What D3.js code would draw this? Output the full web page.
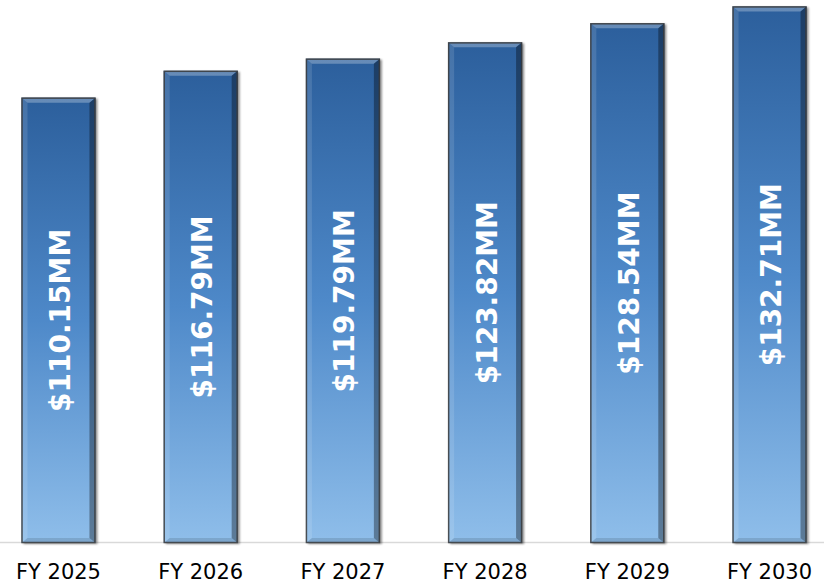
<!DOCTYPE html>
<html>
<head>
<meta charset="utf-8">
<script src="https://cdn.jsdelivr.net/npm/d3@7"></script>
<style>
  html, body { margin: 0; padding: 0; background: #ffffff; }
  svg { display: block; }
</style>
</head>
<body>
<svg id="chart" width="824" height="583"></svg>
<script>
const categories = ["FY 2025", "FY 2026", "FY 2027", "FY 2028", "FY 2029", "FY 2030"];
const values = [110.15, 116.79, 119.79, 123.82, 128.54, 132.71];
const valueLabels = ["$110.15MM", "$116.79MM", "$119.79MM", "$123.82MM", "$128.54MM", "$132.71MM"];

const W = 824, H = 583;
const baseY = 543;
const svg = d3.select("#chart");

const x = d3.scaleBand().domain(categories).range([21.5, 806.5]).paddingInner(0.48).paddingOuter(0);
const y = d3.scaleLinear().domain([0, 134.3]).range([baseY, 0]);

const defs = svg.append("defs");
const grad = defs.append("linearGradient").attr("id", "barGrad")
  .attr("x1", 0).attr("y1", 0).attr("x2", 0).attr("y2", 1);
grad.append("stop").attr("offset", "0%").attr("stop-color", "#2c5f9c");
grad.append("stop").attr("offset", "50%").attr("stop-color", "#4e89c9");
grad.append("stop").attr("offset", "100%").attr("stop-color", "#8fbeea");

const blur = defs.append("filter").attr("id", "shadow").attr("x", "-20%").attr("y", "-5%").attr("width", "140%").attr("height", "110%");
blur.append("feGaussianBlur").attr("stdDeviation", 1.2);

// axis line
svg.append("line").attr("x1", 0).attr("x2", W).attr("y1", baseY - 0.5).attr("y2", baseY - 0.5)
  .attr("stroke", "#d9d9d9").attr("stroke-width", 1.5);

const data = categories.map((c, i) => ({ c, v: values[i], label: valueLabels[i] }));
const g = svg.append("g");

const bars = g.selectAll("g.bar").data(data).join("g").attr("class", "bar");

// shadow
bars.append("rect")
  .attr("x", d => x(d.c) + 2)
  .attr("y", d => y(d.v) + 1)
  .attr("width", x.bandwidth())
  .attr("height", d => baseY - y(d.v))
  .attr("fill", "#000").attr("opacity", 0.45)
  .attr("filter", "url(#shadow)");

// main bar
bars.append("rect")
  .attr("x", d => x(d.c))
  .attr("y", d => y(d.v))
  .attr("width", x.bandwidth())
  .attr("height", d => baseY - y(d.v))
  .attr("fill", "url(#barGrad)");

const bvS = 6, bvT = 5;
function bevel(d, side) {
  const x0 = x(d.c), x1 = x0 + x.bandwidth(), y0 = y(d.v), y1 = baseY;
  if (side === "top") return [[x0, y0], [x1, y0], [x1 - bvS, y0 + bvT], [x0 + bvS, y0 + bvT]];
  if (side === "left") return [[x0, y0], [x0 + bvS, y0 + bvT], [x0 + bvS, y1 - bvT], [x0, y1]];
  if (side === "right") return [[x1, y0], [x1, y1], [x1 - bvS, y1 - bvT], [x1 - bvS, y0 + bvT]];
  return [[x0, y1], [x0 + bvS, y1 - bvT], [x1 - bvS, y1 - bvT], [x1, y1]];
}
const line = d3.line();
const bevelStyles = { top: ["#ffffff", 0.28], left: ["#ffffff", 0.12], right: ["#000000", 0.35], bottom: ["#000000", 0.12] };
Object.keys(bevelStyles).forEach(side => {
  bars.append("path")
    .attr("d", d => line(bevel(d, side)) + "Z")
    .attr("fill", bevelStyles[side][0])
    .attr("opacity", bevelStyles[side][1]);
});

// outline
bars.append("rect")
  .attr("x", d => x(d.c) + 0.5)
  .attr("y", d => y(d.v) + 0.5)
  .attr("width", x.bandwidth() - 1)
  .attr("height", d => baseY - y(d.v) - 1)
  .attr("fill", "none")
  .attr("stroke", "#3a3a3a").attr("stroke-width", 1.5).attr("opacity", 0.85);

// value labels
bars.append("text")
  .attr("transform", d => {
    const cx = x(d.c) + x.bandwidth() / 2 + 2;
    const cy = (y(d.v) + baseY) / 2;
    return `translate(${cx},${cy}) rotate(-90)`;
  })
  .attr("text-anchor", "middle")
  .attr("dominant-baseline", "central")
  .attr("fill", "#ffffff")
  .attr("font-family", "Verdana, 'DejaVu Sans', sans-serif")
  .attr("font-weight", "bold")
  .attr("font-size", 28)
  .text(d => d.label);

// category labels
svg.append("g").selectAll("text").data(categories).join("text")
  .attr("x", d => x(d) + x.bandwidth() / 2)
  .attr("y", 579)
  .attr("text-anchor", "middle")
  .attr("fill", "#000000")
  .attr("font-family", "Verdana, 'DejaVu Sans', sans-serif")
  .attr("font-size", 21)
  .text(d => d);
</script>
</body>
</html>
